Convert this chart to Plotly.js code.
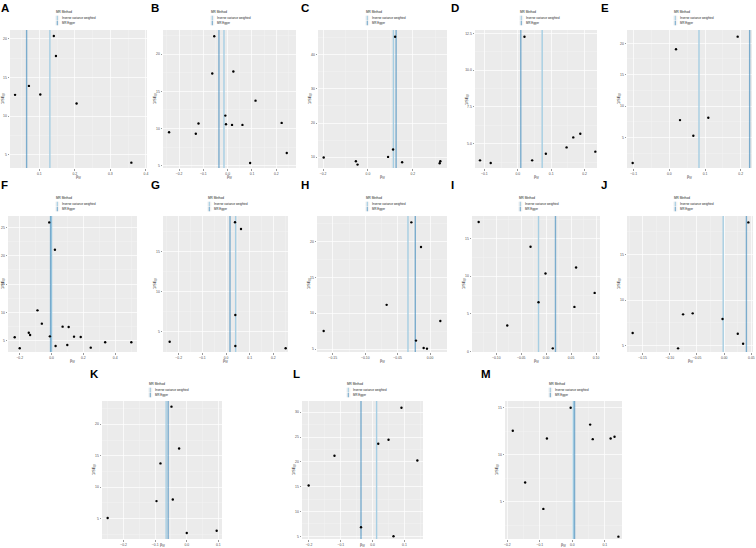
<!DOCTYPE html>
<html><head><meta charset="utf-8">
<script src="https://cdn.plot.ly/plotly-3.0.1.min.js"></script>
<style>html,body{margin:0;padding:0;background:#fff}#chart{width:756px;height:548px}</style>
</head><body><div id="chart"></div>
<script>
// ---------------- data ----------------
const panelLabels = ['A','B','C','D','E','F','G','H','I','J','K','L','M'];
const legendTitle = 'MR Method';
const methodNames = ['Inverse variance weighted', 'MR Egger'];
const xAxisTitle = 'β<sub>IV</sub>';
const yAxisTitle = '1/SE<sub>IV</sub>';

const betaA = [0.141, 0.147, 0.071, 0.032, 0.103, 0.205, 0.359];
const invseA = [20.39, 17.80, 13.92, 12.76, 12.80, 11.64, 3.97];
const betaB = [-0.0552, -0.0634, 0.0234, 0.1145, -0.0097, -0.0069, 0.0179, 0.0607, -0.120, -0.131, -0.241, 0.222, 0.243, 0.0924];
const invseB = [22.41, 17.41, 17.68, 13.75, 11.74, 10.58, 10.49, 10.49, 10.67, 9.29, 9.51, 10.76, 6.70, 5.36];
const betaC = [0.1209, 0.1119, 0.0896, -0.197, -0.0537, -0.0463, 0.1522, 0.3224, 0.3194];
const invseC = [45.19, 12.26, 10.10, 9.90, 8.82, 7.84, 8.53, 8.82, 8.23];
const betaD = [0.020, -0.113, -0.081, 0.043, 0.084, 0.146, 0.166, 0.187, 0.232];
const invseD = [12.27, 3.87, 3.69, 3.87, 4.32, 4.75, 5.43, 5.68, 4.46];
const betaE = [0.1916, 0.0187, 0.0299, 0.1093, 0.0673, -0.1028];
const invseE = [21.06, 19.05, 7.76, 8.13, 5.27, 0.92];
const betaF = [-0.0147, 0.0211, -0.0884, -0.0611, -0.1432, -0.1347, -0.2316, -0.0105, 0.0695, 0.1074, 0.1411, 0.1832, -0.200, 0.0253, 0.0989, 0.2463, 0.3368, 0.5011];
const invseF = [25.87, 21.05, 10.35, 8.00, 6.41, 6.00, 5.59, 5.76, 7.47, 7.41, 5.71, 5.65, 3.65, 4.06, 4.24, 3.77, 4.71, 4.71];
const betaG = [0.038, 0.0634, 0.0394, -0.238, 0.0394, 0.2521];
const invseG = [18.67, 17.83, 7.08, 3.75, 3.21, 2.92];
const betaH = [-0.0289, -0.0140, -0.067, -0.1641, 0.0158, -0.0217, -0.0099, -0.0048];
const invseH = [22.70, 19.25, 11.17, 7.52, 8.91, 6.17, 5.14, 5.05];
const betaI = [-0.1353, -0.0313, 0.060, -0.0013, 0.0973, -0.0153, 0.0567, -0.078, 0.0133];
const invseI = [17.16, 13.90, 11.15, 10.35, 7.78, 6.54, 5.93, 3.46, 0.44];
const betaJ = [0.0445, -0.1683, -0.0756, -0.0579, -0.003, 0.025, 0.0348, -0.0848];
const invseJ = [18.50, 6.39, 8.43, 8.54, 7.92, 6.31, 5.22, 4.71];
const betaK = [-0.0484, -0.0242, -0.0832, -0.0958, -0.0442, -0.2505, 0.0, 0.0947];
const invseK = [22.80, 16.15, 13.79, 7.80, 8.06, 5.11, 2.73, 3.10];
const betaL = [0.0906, 0.050, 0.0177, -0.1198, 0.1406, -0.201, -0.0365, 0.0656];
const invseL = [30.89, 24.46, 23.64, 21.23, 20.27, 15.24, 6.84, 5.00];
const betaM = [-0.005, -0.183, -0.078, 0.055, 0.063, 0.118, 0.130, -0.145, -0.089, 0.142];
const invseM = [15.00, 12.56, 11.73, 13.21, 11.66, 11.73, 11.91, 7.05, 4.24, 1.29];

const ivwEstimate = [0.130, -0.0152, 0.1134, 0.073, 0.0832, 0.0, 0.0408, -0.0341, -0.0153, -0.0018, -0.0653, 0.0125, 0.003];
const eggerEstimate = [0.0645, -0.0359, 0.1254, 0.009, 0.2252, -0.0063, 0.0169, -0.0228, 0.0187, 0.0409, -0.0589, -0.0365, 0.007];

const betas = [betaA, betaB, betaC, betaD, betaE, betaF, betaG, betaH, betaI, betaJ, betaK, betaL, betaM];
const invses = [invseA, invseB, invseC, invseD, invseE, invseF, invseG, invseH, invseI, invseJ, invseK, invseL, invseM];

// ---------------- layout geometry (pixels) ----------------
const W = 756, H = 548;
const boxes = [[10,147,30,168],[163,296,30,168],[318,447,30,168],[475,597,30,168],[627,752,30,168],
  [8,137,216,352],[163,288,216,352],[317,447,216,352],[472,600,216,352],[627,753,216,352],
  [102,222,401,539],[302,423,401,539],[505,622,401,539]];
const xRanges = [[0.0178,0.403],[-0.266,0.281],[-0.2224,0.352],[-0.128,0.237],[-0.1187,0.2318],[-0.2737,0.5368],
  [-0.2662,0.262],[-0.1744,0.0261],[-0.1487,0.108],[-0.1787,0.053],[-0.2684,0.1116],[-0.2219,0.1583],[-0.207,0.153]];
const yRanges = [[3.28,21.16],[4.69,23.26],[6.85,47.18],[3.35,12.73],[0.122,22.12],[3.0,27.0],[2.46,19.46],
  [4.58,23.59],[-0.04,17.96],[4.31,19.2],[1.78,23.7],[4.46,32.25],[1.04,15.72]];
const xDticks = [0.1,0.1,0.2,0.1,0.1,0.2,0.1,0.05,0.05,0.05,0.1,0.1,0.1];
const yDticks = [5,5,10,2.5,5,5,5,5,5,5,5,5,5];
const legendPos = [[55,12],[210,12],[365,12],[519,12],[673,12],[55,198],[207,198],[365,198],[518,198],[673,198],[148,384],[346,384],[548,384]];
const letterPos = [[0,7.5],[150,7.5],[300,7.5],[450,7.5],[600,7.5],[0,185.5],[150,185.5],[300,185.5],[450,185.5],[600,185.5],[89,374],[292,374],[480,374]];

const IVW_COL = '#a6cee3', EGG_COL = 'rgba(31,120,180,0.55)';
const FONT = 'Liberation Sans, Arial, sans-serif';
const px = x => x / W, py = y => 1 - y / H;

const traces = [];
const layout = {
  width: W, height: H, margin: {l:0, r:0, t:0, b:0},
  paper_bgcolor: '#ffffff', plot_bgcolor: '#EBEBEB',
  font: {family: FONT, color: '#4d4d4d'},
  showlegend: false, annotations: [], shapes: []
};

function fmt(d) { return d < 0.1 ? '.2f' : (d < 1 ? '.1f' : (d % 1 ? '.1f' : 'd')); }

panelLabels.forEach((lab, i) => {
  const s = i === 0 ? '' : String(i + 1);
  const [x0, x1, y0, y1] = boxes[i];
  const common = {
    showgrid: true, gridcolor: '#ffffff', gridwidth: 0.7,
    zeroline: false, showline: false, ticks: 'outside', ticklen: 1.5, tickwidth: 0.5, tickcolor: '#333333',
    tickfont: {size: 3.4, color: '#4d4d4d', family: FONT}, automargin: false, fixedrange: true, tickmode: 'linear', tick0: 0
  };
  layout['xaxis' + s] = Object.assign({}, common, {
    domain: [px(x0), px(x1)], range: xRanges[i], anchor: 'y' + s, dtick: xDticks[i],
    tickformat: fmt(xDticks[i]),
    minor: {showgrid: true, gridcolor: '#f5f5f5', gridwidth: 0.4, dtick: xDticks[i] / 2, tick0: 0}
  });
  layout['yaxis' + s] = Object.assign({}, common, {
    domain: [py(y1), py(y0)], range: yRanges[i], anchor: 'x' + s, dtick: yDticks[i],
    tickformat: fmt(yDticks[i]),
    minor: {showgrid: true, gridcolor: '#f5f5f5', gridwidth: 0.4, dtick: yDticks[i] / 2, tick0: 0}
  });
  // vertical estimate lines
  traces.push({x: [ivwEstimate[i], ivwEstimate[i]], y: yRanges[i], mode: 'lines', xaxis: 'x' + s, yaxis: 'y' + s,
    line: {color: IVW_COL, width: 1.4}, hoverinfo: 'skip', showlegend: false});
  traces.push({x: [eggerEstimate[i], eggerEstimate[i]], y: yRanges[i], mode: 'lines', xaxis: 'x' + s, yaxis: 'y' + s,
    line: {color: EGG_COL, width: 1.4}, hoverinfo: 'skip', showlegend: false});
  traces.push({x: betas[i], y: invses[i], mode: 'markers', xaxis: 'x' + s, yaxis: 'y' + s,
    marker: {color: '#000000', size: 2.4}, showlegend: false, cliponaxis: false});

  // panel letter
  layout.annotations.push({text: '<b>' + lab + '</b>', xref: 'paper', yref: 'paper', x: px(letterPos[i][0]), y: py(letterPos[i][1]),
    xanchor: 'left', yanchor: 'middle', showarrow: false, font: {size: 11.5, color: '#000', family: FONT}, borderpad: 0});
  // axis titles
  layout.annotations.push({text: xAxisTitle, xref: 'paper', yref: 'paper', x: px((x0 + x1) / 2), y: py(Math.min(y1 + 9.5, 545)),
    xanchor: 'center', yanchor: 'middle', showarrow: false, font: {size: 3.8, color: '#222', family: FONT}, borderpad: 0});
  layout.annotations.push({text: yAxisTitle, xref: 'paper', yref: 'paper', x: px(Math.max(x0 - 8, 3)), y: py((y0 + y1) / 2),
    xanchor: 'center', yanchor: 'middle', textangle: -90, showarrow: false, font: {size: 3.8, color: '#222', family: FONT}, borderpad: 0});
  // manual legend
  const [lx, ly] = legendPos[i];
  layout.annotations.push({text: legendTitle, xref: 'paper', yref: 'paper', x: px(lx), y: py(ly),
    xanchor: 'left', yanchor: 'middle', showarrow: false, font: {size: 3.1, color: '#222', family: FONT}, borderpad: 0});
  [IVW_COL, EGG_COL].forEach((c, k) => {
    const ry = ly + 6 + k * 5;
    layout.shapes.push({type: 'rect', xref: 'paper', yref: 'paper', x0: px(lx + 0.3), x1: px(lx + 4.3), y0: py(ry + 2.4), y1: py(ry - 2.4),
      fillcolor: '#f2f2f2', line: {width: 0}});
    layout.shapes.push({type: 'line', xref: 'paper', yref: 'paper', x0: px(lx + 2.3), x1: px(lx + 2.3), y0: py(ry + 2.3), y1: py(ry - 2.3),
      line: {color: c, width: 1.2}});
    layout.annotations.push({text: methodNames[k], xref: 'paper', yref: 'paper', x: px(lx + 5.5), y: py(ry),
      xanchor: 'left', yanchor: 'middle', showarrow: false, font: {size: 2.9, color: '#222', family: FONT}, borderpad: 0});
  });
});

Plotly.newPlot('chart', traces, layout, {displayModeBar: false, staticPlot: true});
</script>
</body></html>
